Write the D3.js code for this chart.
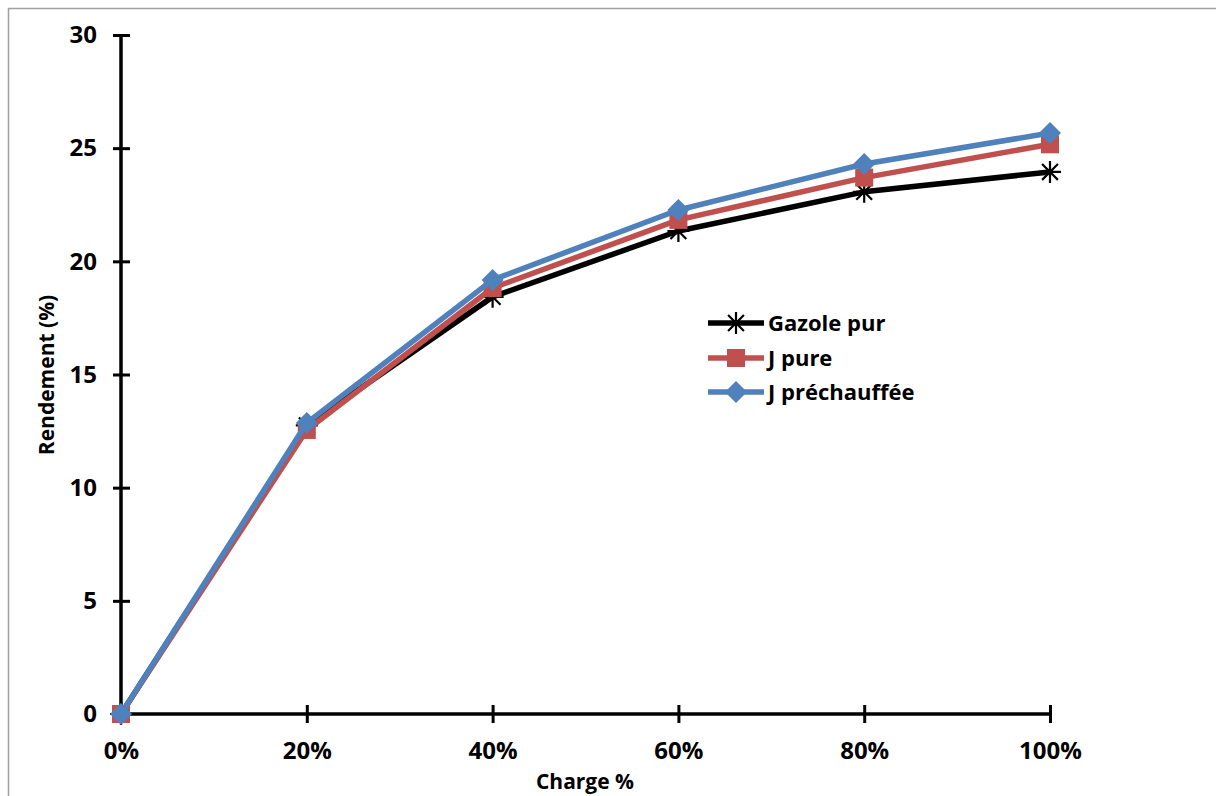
<!DOCTYPE html>
<html>
<head>
<meta charset="utf-8">
<script src="https://cdn.jsdelivr.net/npm/d3@7"></script>
<style>
  html, body { margin: 0; padding: 0; background: #fff; }
  svg { display: block; }
  text { font-family: "Open Sans", Lato, "Liberation Sans", sans-serif; font-weight: bold; fill: #000; }
</style>
</head>
<body>
<svg id="chart" width="1216" height="796"></svg>
<script>
// Load levels (x axis) and efficiency values per fuel
const charges = [0, 20, 40, 60, 80, 100];
const xTickLabels = ["0%", "20%", "40%", "60%", "80%", "100%"];
const yTicks = [0, 5, 10, 15, 20, 25, 30];

const gazolePur = [0, 12.75, 18.43, 21.34, 23.07, 23.95];
const jPure = [0, 12.55, 18.82, 21.83, 23.70, 25.17];
const jPrechauffee = [0, 12.86, 19.18, 22.27, 24.30, 25.67];

const seriesNames = ["Gazole pur", "J pure", "J préchauffée"];
const seriesColors = ["#000000", "#C0504D", "#4F81BD"];
const seriesMarkers = ["star", "square", "diamond"];

const series = [gazolePur, jPure, jPrechauffee].map((vals, i) => ({
  name: seriesNames[i], color: seriesColors[i], marker: seriesMarkers[i],
  points: vals.map((v, j) => ({ x: charges[j], y: v }))
}));

const svg = d3.select("#chart");

// outer chart frame
svg.append("rect")
  .attr("x", 8.5).attr("y", 8.5).attr("width", 1220).attr("height", 800)
  .attr("fill", "none").attr("stroke", "#A0A0A0").attr("stroke-width", 1.5);

const x = d3.scaleLinear().domain([0, 100]).range([121, 1050]);
const y = d3.scaleLinear().domain([0, 30]).range([714, 35]);

// y axis
const yAxis = svg.append("g").attr("transform", `translate(${x(0)},0)`)
  .call(d3.axisLeft(y).tickValues(yTicks).tickSize(8).tickPadding(16));
yAxis.select(".domain").remove();
yAxis.append("line").attr("x1", 0).attr("x2", 0).attr("y1", y(0)).attr("y2", y(30))
  .attr("stroke", "#000").attr("stroke-width", 3.5);
yAxis.selectAll(".tick line").attr("x1", 9).attr("x2", -8).attr("stroke", "#000").attr("stroke-width", 3);
yAxis.selectAll(".tick text").style("font-size", "24px").attr("fill", "#000");

// x axis
const xAxis = svg.append("g").attr("transform", `translate(0,${y(0)})`)
  .call(d3.axisBottom(x).tickValues(charges).tickFormat((d, i) => xTickLabels[i]).tickSize(8).tickPadding(20));
xAxis.select(".domain").remove();
xAxis.append("line").attr("x1", x(0)).attr("x2", x(100)).attr("y1", 0).attr("y2", 0)
  .attr("stroke", "#000").attr("stroke-width", 3.5);
xAxis.selectAll(".tick line").attr("y1", -9).attr("y2", 9).attr("stroke", "#000").attr("stroke-width", 3);
xAxis.selectAll(".tick text").style("font-size", "24px").attr("fill", "#000");

// axis titles
svg.append("text").attr("transform", "translate(54,375) rotate(-90)")
  .attr("text-anchor", "middle").style("font-size", "21px").text("Rendement (%)");
svg.append("text").attr("x", 585).attr("y", 789)
  .attr("text-anchor", "middle").style("font-size", "21px").text("Charge %");

// marker drawing
function drawMarker(g, type, color) {
  if (type === "star") {
    const r = 11;
    g.append("path")
      .attr("d", `M${-r},0L${r},0M0,${-r}L0,${r}M${-r*0.72},${-r*0.72}L${r*0.72},${r*0.72}M${-r*0.72},${r*0.72}L${r*0.72},${-r*0.72}`)
      .attr("stroke", color).attr("stroke-width", 2.2).attr("fill", "none");
  } else if (type === "square") {
    g.append("rect").attr("x", -9).attr("y", -9).attr("width", 18).attr("height", 18).attr("fill", color);
  } else {
    g.append("path").attr("d", "M0,-11L11,0L0,11L-11,0Z").attr("fill", color);
  }
}

const line = d3.line().x(d => x(d.x)).y(d => y(d.y));

series.forEach(s => {
  const g = svg.append("g");
  g.append("path").datum(s.points).attr("d", line)
    .attr("fill", "none").attr("stroke", s.color).attr("stroke-width", 5.5)
    .attr("stroke-linejoin", "round");
  s.points.forEach(p => {
    const m = g.append("g").attr("transform", `translate(${x(p.x)},${y(p.y)})`);
    drawMarker(m, s.marker, s.color);
  });
});

// legend
const legend = svg.append("g");
const legendY = [323, 358, 392];
series.forEach((s, i) => {
  const row = legend.append("g").attr("transform", `translate(708,${legendY[i]})`);
  row.append("line").attr("x1", 0).attr("x2", 56).attr("y1", 0).attr("y2", 0)
    .attr("stroke", s.color).attr("stroke-width", 5.5);
  const m = row.append("g").attr("transform", "translate(28,0)");
  drawMarker(m, s.marker, s.color);
  row.append("text").attr("x", 60).attr("y", 8).style("font-size", "22px").text(s.name);
});
</script>
</body>
</html>
